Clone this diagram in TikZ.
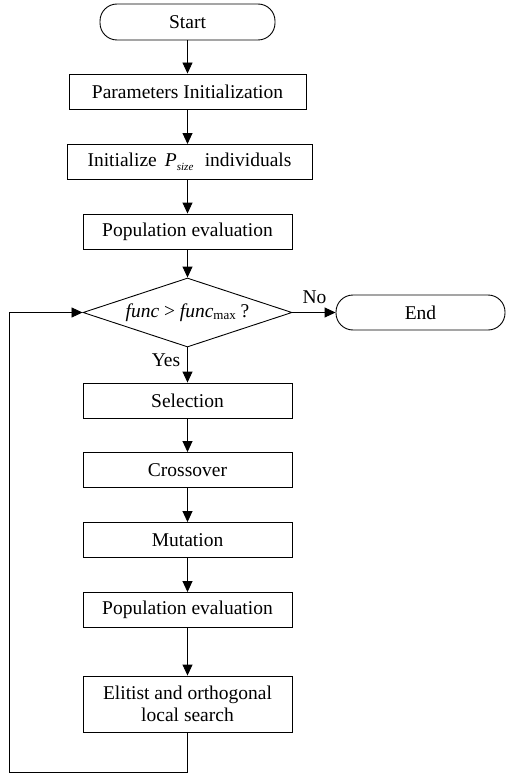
\documentclass[tikz,border=0pt]{standalone}
\usepackage{fontspec}
\setmainfont{Liberation Serif}
\usetikzlibrary{shapes.geometric,arrows.meta}
\begin{document}
\begin{tikzpicture}[x=1pt,y=-1pt,
  font=\fontsize{19.5}{23}\selectfont,
  every path/.style={line width=0.9pt},
  box/.style={draw, rectangle, inner sep=0pt, minimum height=35pt, align=center},
  term/.style={draw, rectangle, rounded corners=17pt, inner sep=0pt, minimum height=36pt},
  dec/.style={draw, diamond, inner sep=0pt, minimum width=209pt, minimum height=69pt},
  arr/.style={-{Triangle[length=11pt,width=10pt]}},
  lbl/.style={inner sep=0pt}]
\useasboundingbox (0,0) rectangle (507,773);
\node[term, minimum width=175pt] (start) at (187.5,22) {Start};
\node[box, minimum width=237pt] (param) at (187.5,91.5) {Parameters Initialization};
\node[box, minimum width=245pt] (init) at (189.5,161.5) {Initialize \,\textit{P}\raisebox{-0.45ex}{\fontsize{11}{12}\selectfont\textit{size}}\,\, individuals};
\node[box, minimum width=209pt] (pop1) at (187.5,231.5) {Population evaluation};
\node[dec] (cond) at (187.5,312.5) {};
\node[lbl] (condtxt) at (187.5,312.5) {\textit{func} > \textit{func}\raisebox{-0.3ex}{\fontsize{13}{14}\selectfont max} ?};
\node[term, minimum width=169pt, minimum height=35pt] (end) at (420.5,312.5) {End};
\node[box, minimum width=209pt] (sel) at (187.5,400.5) {Selection};
\node[box, minimum width=209pt] (cross) at (187.5,470) {Crossover};
\node[box, minimum width=209pt] (mut) at (187.5,540) {Mutation};
\node[box, minimum width=209pt] (pop2) at (187.5,610) {Population evaluation};
\node[box, minimum width=209pt, minimum height=56pt] (elit) at (187.5,704) {Elitist and orthogonal\\[-1pt]local search};
\coordinate (c1) at (187.5,772);
\coordinate (c2) at (9,772);
\coordinate (c3) at (9,312.5);
\node[lbl] (yes) at (166,360) {Yes};
\node[lbl] (no) at (314.5,297) {No};
\draw[arr] (start) -- (param);
\draw[arr] (param.south -| 187.5,0) -- (187.5,144);
\draw[arr] (187.5,179) -- (pop1);
\draw[arr] (pop1) -- (cond);
\draw[arr] (cond) -- (end);
\draw[arr] (cond) -- (sel);
\draw[arr] (sel) -- (cross);
\draw[arr] (cross) -- (mut);
\draw[arr] (mut) -- (pop2);
\draw[arr] (pop2) -- (elit);
\draw[arr] (elit) -- (c1) -- (c2) -- (c3) -- (cond);
\end{tikzpicture}
\end{document}
